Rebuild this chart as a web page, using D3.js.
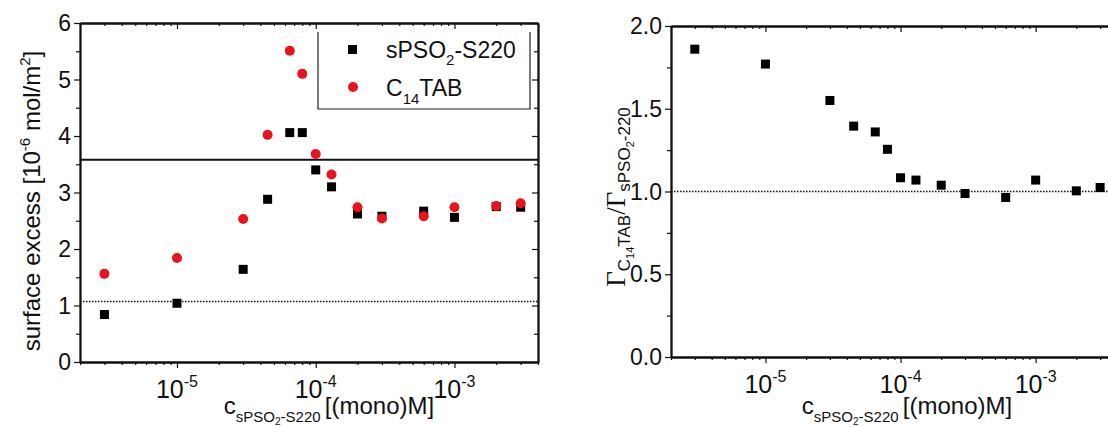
<!DOCTYPE html>
<html>
<head>
<meta charset="utf-8">
<script src="https://cdn.jsdelivr.net/npm/d3@7"></script>
<style>
  body { margin: 0; background: #fff; }
  svg text { font-family: "Liberation Sans", Arial, sans-serif; fill: #111; }
</style>
</head>
<body>
<div id="chart"></div>
<script>
// concentration of sPSO2-S220 [(mono)M]
var conc = [3e-6, 1e-5, 3e-5, 4.5e-5, 6.5e-5, 8e-5, 1e-4, 1.3e-4, 2e-4, 3e-4, 6e-4, 1e-3, 2e-3, 3e-3];
// surface excess [10^-6 mol/m^2]
var sPSO = [0.84, 1.04, 1.64, 2.88, 4.06, 4.06, 3.40, 3.10, 2.62, 2.58, 2.67, 2.56, 2.75, 2.74];
var c14tab = [1.56, 1.84, 2.53, 4.02, 5.51, 5.10, 3.68, 3.32, 2.74, 2.54, 2.58, 2.74, 2.76, 2.81];
// ratio Gamma C14TAB / Gamma sPSO2-220
var ratio = [1.86, 1.77, 1.55, 1.395, 1.36, 1.255, 1.083, 1.069, 1.038, 0.988, 0.964, 1.069, 1.004, 1.024];

var xDomain = [2e-6, 4e-3];
var xMajor = [1e-5, 1e-4, 1e-3];
var xMajorExp = ["-5", "-4", "-3"];
var leftTicks = ["0", "1", "2", "3", "4", "5", "6"];
var rightTicks = ["0.0", "0.5", "1.0", "1.5", "2.0"];
var solidLevel = 3.58;
var dottedLevel = 1.07;
var ratioLevel = 1.0;

var svg = d3.select("#chart").append("svg")
  .attr("width", 1108)
  .attr("height", 427);

var left = {x0: 80, x1: 538, y0: 362, y1: 23, titleX: 329};
var right = {x0: 671, x1: 1117, y0: 357, y1: 26, titleX: 907};

function frame(p, ymax, yMinorStep, yLabels) {
  var x = d3.scaleLog().domain(xDomain).range([p.x0, p.x1]);
  var y = d3.scaleLinear().domain([0, ymax]).range([p.y0, p.y1]);
  var minor = x.ticks().filter(function(t) { return xMajor.indexOf(t) < 0; });
  var yMinor = d3.range(yMinorStep, ymax, yMinorStep * 2);
  var g = svg.append("g");

  // bottom (outward) and top (inward) x ticks
  g.append("g").attr("transform", "translate(0," + p.y0 + ")")
    .call(d3.axisBottom(x).tickValues(minor).tickSize(3).tickSizeOuter(0).tickFormat(""));
  g.append("g").attr("transform", "translate(0," + p.y0 + ")")
    .call(d3.axisBottom(x).tickValues(xMajor).tickSize(6).tickSizeOuter(0).tickFormat(""));
  g.append("g").attr("transform", "translate(0," + p.y1 + ")")
    .call(d3.axisTop(x).tickValues(minor).tickSize(-3).tickSizeOuter(0).tickFormat(""));
  g.append("g").attr("transform", "translate(0," + p.y1 + ")")
    .call(d3.axisTop(x).tickValues(xMajor).tickSize(-6).tickSizeOuter(0).tickFormat(""));

  // left (outward) and right (inward) y ticks
  var majorVals = yLabels.map(Number);
  g.append("g").attr("transform", "translate(" + p.x0 + ",0)")
    .call(d3.axisLeft(y).tickValues(majorVals).tickSize(6).tickSizeOuter(0).tickFormat(""));
  g.append("g").attr("transform", "translate(" + p.x0 + ",0)")
    .call(d3.axisLeft(y).tickValues(yMinor).tickSize(4).tickSizeOuter(0).tickFormat(""));
  g.append("g").attr("transform", "translate(" + p.x1 + ",0)")
    .call(d3.axisRight(y).tickValues(majorVals).tickSize(-6).tickSizeOuter(0).tickFormat(""));
  g.append("g").attr("transform", "translate(" + p.x1 + ",0)")
    .call(d3.axisRight(y).tickValues(yMinor).tickSize(-4).tickSizeOuter(0).tickFormat(""));

  g.selectAll("path.domain").attr("stroke", "#111").attr("stroke-width", 1.8);
  g.selectAll(".tick line").attr("stroke", "#111").attr("stroke-width", 1.2);

  // y tick labels
  g.selectAll("text.ylab").data(yLabels).enter().append("text")
    .attr("x", p.x0 - 9)
    .attr("y", function(d) { return y(+d) + 8; })
    .attr("text-anchor", "end")
    .style("font-size", "23px")
    .text(function(d) { return d; });

  // x tick labels 10^n
  xMajor.forEach(function(v, i) {
    var t = g.append("text")
      .attr("x", x(v))
      .attr("y", p.y0 + 36)
      .attr("text-anchor", "middle")
      .style("font-size", "25px");
    t.append("tspan").text("10");
    t.append("tspan").attr("dy", -11).style("font-size", "16px").text(xMajorExp[i]);
  });

  // x title
  var xt = g.append("text")
    .attr("x", p.titleX)
    .attr("y", 414)
    .attr("text-anchor", "middle")
    .style("font-size", "24px");
  xt.append("tspan").text("c");
  xt.append("tspan").attr("dy", 8).style("font-size", "15px").text("sPSO");
  xt.append("tspan").attr("dy", 3).style("font-size", "10px").text("2");
  xt.append("tspan").attr("dy", -3).style("font-size", "15px").text("-S220 ");
  xt.append("tspan").attr("dy", -8).text("[(mono)M]");

  return {x: x, y: y, g: g};
}

// ---- left panel ----
var L = frame(left, 6, 0.5, leftTicks);

L.g.append("line")
  .attr("x1", left.x0).attr("x2", left.x1)
  .attr("y1", L.y(solidLevel)).attr("y2", L.y(solidLevel))
  .attr("stroke", "#111").attr("stroke-width", 1.8);
L.g.append("line")
  .attr("x1", left.x0).attr("x2", left.x1)
  .attr("y1", L.y(dottedLevel)).attr("y2", L.y(dottedLevel))
  .attr("stroke", "#111").attr("stroke-width", 1.6)
  .attr("stroke-dasharray", "1.5,1.5");

L.g.selectAll("rect.sq").data(sPSO).enter().append("rect")
  .attr("x", function(d, i) { return L.x(conc[i]) - 4.5; })
  .attr("y", function(d) { return L.y(d) - 4.5; })
  .attr("width", 9).attr("height", 9)
  .attr("fill", "#000");
L.g.selectAll("circle.ci").data(c14tab).enter().append("circle")
  .attr("cx", function(d, i) { return L.x(conc[i]); })
  .attr("cy", function(d) { return L.y(d); })
  .attr("r", 5)
  .attr("fill", "#e8141b");

// legend
var lg = L.g.append("g");
lg.append("path")
  .attr("d", "M318,32V109H530V32")
  .attr("fill", "none").attr("stroke", "#222").attr("stroke-width", 1.2);
lg.append("rect").attr("x", 348).attr("y", 45).attr("width", 9).attr("height", 9).attr("fill", "#000");
lg.append("circle").attr("cx", 353).attr("cy", 87).attr("r", 5).attr("fill", "#e8141b");
var l1 = lg.append("text").attr("x", 386).attr("y", 58).style("font-size", "23px");
l1.append("tspan").text("sPSO");
l1.append("tspan").attr("dy", 7).style("font-size", "15px").text("2");
l1.append("tspan").attr("dy", -7).text("-S220");
var l2 = lg.append("text").attr("x", 386).attr("y", 96).style("font-size", "23px");
l2.append("tspan").text("C");
l2.append("tspan").attr("dy", 8).style("font-size", "15px").text("14");
l2.append("tspan").attr("dy", -8).text("TAB");

// y title
var yt = svg.append("text")
  .attr("transform", "translate(40,201) rotate(-90)")
  .attr("text-anchor", "middle")
  .style("font-size", "24px");
yt.append("tspan").text("surface excess [10");
yt.append("tspan").attr("dy", -10).style("font-size", "15px").text("-6");
yt.append("tspan").attr("dy", 10).text(" mol/m");
yt.append("tspan").attr("dy", -10).style("font-size", "15px").text("2");
yt.append("tspan").attr("dy", 10).text("]");

// ---- right panel ----
var R = frame(right, 2, 0.25, rightTicks);

R.g.append("line")
  .attr("x1", right.x0).attr("x2", right.x1)
  .attr("y1", R.y(ratioLevel)).attr("y2", R.y(ratioLevel))
  .attr("stroke", "#111").attr("stroke-width", 1.6)
  .attr("stroke-dasharray", "1.5,1.5");

R.g.selectAll("rect.sq").data(ratio).enter().append("rect")
  .attr("x", function(d, i) { return R.x(conc[i]) - 4.5; })
  .attr("y", function(d) { return R.y(d) - 4.5; })
  .attr("width", 9).attr("height", 9)
  .attr("fill", "#000");

var rt = svg.append("text")
  .attr("transform", "translate(625,197) rotate(-90)")
  .attr("text-anchor", "middle")
  .style("font-size", "17px");
rt.append("tspan").style("font-family", "Liberation Serif").style("font-size", "27px").text("\u0393");
rt.append("tspan").attr("dy", 5).text("C");
rt.append("tspan").attr("dy", 4).style("font-size", "11px").text("14");
rt.append("tspan").attr("dy", -4).text("TAB");
rt.append("tspan").attr("dy", -5).style("font-family", "Liberation Serif").style("font-size", "27px").text("/\u0393");
rt.append("tspan").attr("dy", 5).text("sPSO");
rt.append("tspan").attr("dy", 4).style("font-size", "11px").text("2");
rt.append("tspan").attr("dy", -4).text("-220");
</script>
</body>
</html>
